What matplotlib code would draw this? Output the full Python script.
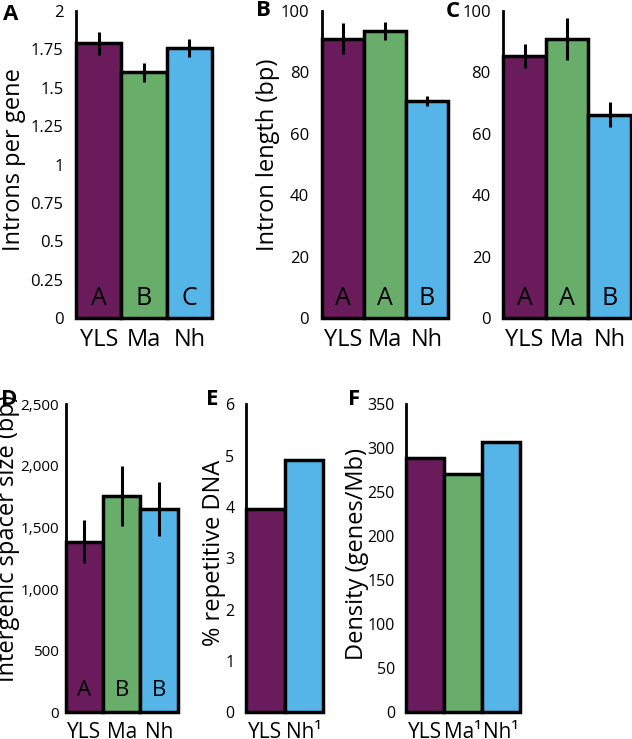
import matplotlib.pyplot as plt
from matplotlib.ticker import FuncFormatter

plt.rcParams['font.family'] = ['Open Sans', 'DejaVu Sans']

# colours per taxon
PURPLE = '#6a1b5b'
GREEN = '#68ae6a'
BLUE = '#56b5e8'

taxa3 = ['YLS', 'Ma', 'Nh']

introns_per_gene = [1.79, 1.60, 1.76]
introns_per_gene_err = [0.075, 0.06, 0.06]
introns_groups = ['A', 'B', 'C']

intron_len_b = [91, 93.5, 70.6]
intron_len_b_err = [5, 3, 1.7]
intron_len_b_groups = ['A', 'A', 'B']

intron_len_c = [85.3, 90.8, 66.2]
intron_len_c_err = [3.8, 6.8, 4.1]
intron_len_c_groups = ['A', 'A', 'B']

spacer_size = [1385, 1756, 1648]
spacer_size_err = [175, 245, 220]
spacer_groups = ['A', 'B', 'B']

repeat_taxa = ['YLS', 'Nh¹']
repeat_pct = [3.97, 4.91]

density_taxa = ['YLS', 'Ma¹', 'Nh¹']
density = [289, 270.5, 307.5]


def bar_panel(rect, labels, values, colors, ylim, yticks, ylabel, label_xy,
              letter, letter_xy, errs=None, groups=None, group_y=0.062,
              fmt=None, xsize=17, gsize=18, lsize=17, ysize=12, ypad=9):
    ax = fig.add_axes(rect)
    x = list(range(len(values)))
    ax.bar(x, values, width=1.0, color=colors, edgecolor='black',
           linewidth=2.5, zorder=2, clip_on=False)
    if errs is not None:
        ax.errorbar(x, values, yerr=errs, fmt='none', ecolor='black',
                    elinewidth=2.2, capsize=0, zorder=3, clip_on=False)
    if groups is not None:
        for xi, g in zip(x, groups):
            ax.text(xi, group_y, g, transform=ax.get_xaxis_transform(),
                    ha='center', va='center', fontsize=gsize, zorder=4)
    ax.set_xlim(-0.5, len(values) - 0.5)
    ax.set_ylim(*ylim)
    ax.set_yticks(yticks)
    if fmt is not None:
        ax.yaxis.set_major_formatter(FuncFormatter(fmt))
    ax.set_xticks(x)
    ax.set_xticklabels(labels)
    ax.tick_params(axis='both', length=0)
    ax.tick_params(axis='x', labelsize=xsize, pad=7)
    ax.tick_params(axis='y', labelsize=ysize, pad=ypad)
    for s in ['top', 'right', 'bottom']:
        ax.spines[s].set_visible(False)
    ax.spines['left'].set_linewidth(2)
    if ylabel:
        ax.set_ylabel(ylabel, fontsize=lsize)
        ax.yaxis.set_label_coords(*label_xy)
    fig.text(letter_xy[0], letter_xy[1], letter, fontsize=16,
             fontweight='bold', ha='left', va='center')
    return ax


fig = plt.figure(figsize=(6.32, 7.39), dpi=100)

cols3 = [PURPLE, GREEN, BLUE]

bar_panel([0.1203, 0.5697, 0.2152, 0.4154], taxa3, introns_per_gene, cols3,
          (0, 2), [0, 0.25, 0.5, 0.75, 1, 1.25, 1.5, 1.75, 2],
          'Introns per gene', (-0.367, 0.515), 'A', (0.004, 0.981),
          errs=introns_per_gene_err, groups=introns_groups,
          fmt=lambda v, p: '%g' % v)

bar_panel([0.509, 0.5697, 0.1998, 0.4154], taxa3, intron_len_b, cols3,
          (0, 100), [0, 20, 40, 60, 80, 100],
          'Intron length (bp)', (-0.33, 0.532), 'B', (0.405, 0.986),
          errs=intron_len_b_err, groups=intron_len_b_groups)

bar_panel([0.7964, 0.5697, 0.2021, 0.4154], taxa3, intron_len_c, cols3,
          (0, 100), [0, 20, 40, 60, 80, 100],
          '', None, 'C', (0.706, 0.984),
          errs=intron_len_c_err, groups=intron_len_c_groups)

bar_panel([0.104, 0.0361, 0.1772, 0.4168], taxa3, spacer_size, cols3,
          (0, 2500), [0, 500, 1000, 1500, 2000, 2500],
          'Intergenic spacer size (bp)', (-0.405, 0.565), 'D', (0.002, 0.459),
          errs=spacer_size_err, groups=spacer_groups, group_y=0.072,
          fmt=lambda v, p: '{:,.0f}'.format(v), xsize=15, gsize=16,
          lsize=17, ysize=11, ypad=5)

bar_panel([0.3888, 0.0361, 0.1228, 0.4168], repeat_taxa, repeat_pct,
          [PURPLE, BLUE], (0, 6), [0, 1, 2, 3, 4, 5, 6],
          '% repetitive DNA', (-0.254, 0.519), 'E', (0.326, 0.459),
          xsize=15, ysize=11.5, ypad=8)

bar_panel([0.6424, 0.0361, 0.1804, 0.4168], density_taxa, density, cols3,
          (0, 350), [0, 50, 100, 150, 200, 250, 300, 350],
          'Density (genes/Mb)', (-0.324, 0.514), 'F', (0.550, 0.459),
          xsize=15, ysize=11.5, ypad=8)

fig.savefig('out.png', dpi=100)
